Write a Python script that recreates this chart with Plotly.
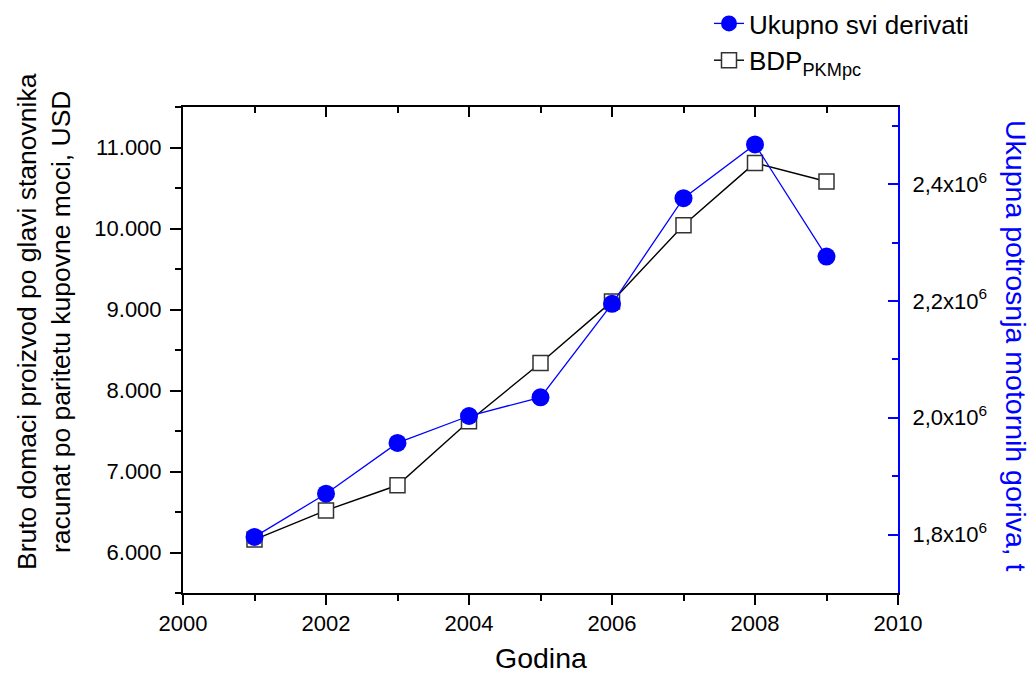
import plotly.graph_objects as go

years = [2001, 2002, 2003, 2004, 2005, 2006, 2007, 2008, 2009]
bdp_pkmpc = [6160, 6520, 6830, 7620, 8340, 9100, 10040, 10810, 10580]
ukupno_derivati = [1.796e6, 1.870e6, 1.957e6, 2.003e6, 2.035e6, 2.195e6, 2.376e6, 2.468e6, 2.276e6]

left_tickvals = [6000, 7000, 8000, 9000, 10000, 11000]
left_ticktext = ["6.000", "7.000", "8.000", "9.000", "10.000", "11.000"]
right_tickvals = [1.8e6, 2.0e6, 2.2e6, 2.4e6]
right_ticktext = ["1,8x10<sup>6</sup>", "2,0x10<sup>6</sup>", "2,2x10<sup>6</sup>", "2,4x10<sup>6</sup>"]

FONT = "Liberation Sans, Arial, sans-serif"
BLUE = "#0000FF"

# layout geometry (pixels)
W, H = 1034, 675
ML, MB = 183, 82
PW, PH = W - ML, H - MB           # paper area (no top/right margin)
PLOT_W, PLOT_TOP = 715, 107
xdom = [0, PLOT_W / PW]
ydom = [0, (PH - PLOT_TOP) / PH]

def px_x(px):
    return (px - ML) / PW

def px_y(py):
    return (PH - py) / PH

fig = go.Figure()
fig.add_trace(go.Scatter(
    x=years, y=bdp_pkmpc, name="BDP<sub>PKMpc</sub>", mode="lines+markers",
    line=dict(color="black", width=1.4),
    marker=dict(symbol="square", size=15, color="white", line=dict(color="#333333", width=1.5)),
    xaxis="x", yaxis="y", legendrank=2,
))
fig.add_trace(go.Scatter(
    x=years, y=ukupno_derivati, name="Ukupno svi derivati", mode="lines+markers",
    line=dict(color=BLUE, width=1.3),
    marker=dict(symbol="circle", size=18, color=BLUE),
    xaxis="x2", yaxis="y2", legendrank=1,
))

fig.update_layout(
    template="none",
    width=W, height=H,
    margin=dict(l=ML, r=0, t=0, b=MB, pad=0),
    paper_bgcolor="white", plot_bgcolor="white",
    font=dict(family=FONT, size=22, color="black"),
    showlegend=True,
    legend=dict(x=px_x(709), y=1.0, xanchor="left", yanchor="top",
                font=dict(size=26, color="black"), bgcolor="rgba(0,0,0,0)",
                borderwidth=0, tracegroupgap=0),
    xaxis=dict(domain=xdom, range=[2000, 2010], tickmode="linear", tick0=2000, dtick=2,
               ticks="outside", ticklen=10, tickwidth=1.5, tickcolor="black",
               minor=dict(dtick=1, tick0=2000, ticks="outside", ticklen=6, tickwidth=1.5, tickcolor="black"),
               showline=True, linecolor="black", linewidth=2, showgrid=False, zeroline=False,
               tickfont=dict(size=22), automargin=False),
    xaxis2=dict(range=[2000, 2010], overlaying="x", side="top", anchor="y2",
                tickmode="linear", tick0=2000, dtick=2,
                ticks="inside", ticklen=10, tickwidth=1.5, tickcolor="black",
                minor=dict(dtick=1, tick0=2000, ticks="inside", ticklen=6, tickwidth=1.5, tickcolor="black"),
                showticklabels=False, showline=True, linecolor="black", linewidth=2,
                showgrid=False, zeroline=False, automargin=False),
    yaxis=dict(domain=ydom, range=[5500, 11500], tickmode="array", tickvals=left_tickvals, ticktext=left_ticktext,
               ticks="outside", ticklen=11, tickwidth=1.5, tickcolor="black",
               minor=dict(dtick=500, tick0=5500, ticks="outside", ticklen=6, tickwidth=1.5, tickcolor="black"),
               ticklabelstandoff=4,
               showline=True, linecolor="black", linewidth=2, showgrid=False, zeroline=False,
               tickfont=dict(size=22), automargin=False),
    yaxis2=dict(range=[1.70e6, 2.532e6], overlaying="y", side="right", anchor="x2",
                tickmode="array", tickvals=right_tickvals, ticktext=right_ticktext,
                ticks="inside", ticklen=10, tickwidth=1.5, tickcolor=BLUE,
                minor=dict(dtick=100000, tick0=1.8e6, ticks="inside", ticklen=6, tickwidth=1.5, tickcolor=BLUE),
                ticklabelstandoff=8,
                showline=True, linecolor=BLUE, linewidth=2, showgrid=False, zeroline=False,
                tickfont=dict(size=22, color="black"), automargin=False),
    annotations=[
        dict(text="Bruto domaci proizvod po glavi stanovnika<br>racunat po paritetu kupovne moci, USD",
             xref="paper", yref="paper", x=px_x(44), y=px_y(322), xanchor="center", yanchor="middle",
             textangle=-90, showarrow=False, font=dict(size=26.5, color="black")),
        dict(text="Ukupna potrosnja motornih goriva, t",
             xref="paper", yref="paper", x=px_x(1016), y=px_y(346), xanchor="center", yanchor="middle",
             textangle=90, showarrow=False, font=dict(size=28.5, color=BLUE)),
        dict(text="Godina", xref="paper", yref="paper", x=px_x(540.5), y=px_y(658),
             xanchor="center", yanchor="middle", showarrow=False, font=dict(size=28.5, color="black")),
    ],
)

# the page's default 8px body margin would shift the figure; remove it
fig.write_html("out.html", config={"displayModeBar": False},
               post_script="document.body.style.margin='0px';")
